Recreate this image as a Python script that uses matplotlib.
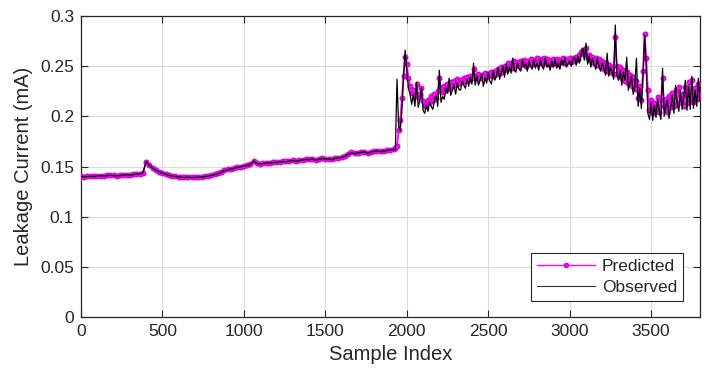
import numpy as np
import matplotlib
matplotlib.use("Agg")
import matplotlib.pyplot as plt

plt.rcParams['font.family'] = ['Liberation Sans', 'DejaVu Sans']

# smooth part: samples 0..1920 every 20; noisy part: 1930..3800 every 10
observed_smooth = [
    0.1400,0.1397,0.1400,0.1403,0.1400,0.1404,0.1408,0.1405,0.1410,0.1412,0.1409,0.1406,0.1410,0.1414,0.1418,0.1414,0.1419,0.1424,0.1428,0.1434,
    0.1550,0.1510,0.1482,0.1462,0.1447,0.1433,0.1422,0.1412,0.1405,0.1400,0.1396,0.1392,0.1391,0.1394,0.1390,0.1391,0.1394,0.1395,0.1399,0.1404,
    0.1410,0.1418,0.1428,0.1443,0.1458,0.1468,0.1474,0.1481,0.1490,0.1497,0.1503,0.1510,0.1518,0.1555,0.1530,0.1524,0.1530,0.1535,0.1533,0.1540,
    0.1540,0.1545,0.1550,0.1548,0.1555,0.1560,0.1553,0.1560,0.1566,0.1570,0.1568,0.1575,0.1562,0.1570,0.1580,0.1574,0.1576,0.1568,0.1580,0.1585,
    0.1590,0.1602,0.1622,0.1636,0.1628,0.1636,0.1641,0.1646,0.1630,0.1645,0.1650,0.1656,0.1648,0.1655,0.1660,0.1666,0.1670,
]
predicted_smooth = [
    0.1402,0.1400,0.1402,0.1405,0.1403,0.1405,0.1409,0.1408,0.1411,0.1414,0.1411,0.1408,0.1412,0.1415,0.1420,0.1416,0.1421,0.1425,0.1430,0.1436,
    0.1545,0.1512,0.1485,0.1465,0.1449,0.1436,0.1425,0.1415,0.1408,0.1402,0.1398,0.1395,0.1394,0.1396,0.1393,0.1394,0.1396,0.1398,0.1402,0.1407,
    0.1413,0.1421,0.1431,0.1446,0.1461,0.1471,0.1477,0.1484,0.1493,0.1500,0.1506,0.1513,0.1521,0.1552,0.1534,0.1527,0.1533,0.1538,0.1537,0.1543,
    0.1543,0.1548,0.1553,0.1552,0.1558,0.1563,0.1557,0.1563,0.1569,0.1573,0.1572,0.1578,0.1566,0.1573,0.1583,0.1578,0.1579,0.1572,0.1583,0.1588,
    0.1593,0.1605,0.1625,0.1640,0.1632,0.1639,0.1644,0.1649,0.1634,0.1648,0.1653,0.1659,0.1652,0.1658,0.1663,0.1669,0.1673,
]
observed_noisy = [
    0.167,0.237,0.190,0.186,0.205,0.240,0.266,0.245,0.228,0.222,
    0.212,0.222,0.210,0.234,0.209,0.216,0.228,0.206,0.203,0.211,
    0.205,0.214,0.210,0.207,0.216,0.221,0.210,0.246,0.214,0.220,
    0.217,0.228,0.223,0.238,0.221,0.226,0.231,0.222,0.233,0.227,
    0.226,0.235,0.231,0.228,0.237,0.230,0.239,0.232,0.253,0.231,
    0.240,0.231,0.236,0.242,0.230,0.238,0.233,0.244,0.235,0.232,
    0.245,0.236,0.240,0.248,0.237,0.243,0.250,0.239,0.252,0.242,
    0.249,0.243,0.258,0.246,0.244,0.253,0.247,0.245,0.256,0.249,
    0.252,0.245,0.255,0.250,0.247,0.256,0.248,0.253,0.246,0.257,
    0.250,0.247,0.258,0.249,0.252,0.246,0.255,0.249,0.257,0.248,
    0.253,0.247,0.256,0.251,0.258,0.249,0.252,0.255,0.250,0.257,
    0.259,0.251,0.260,0.253,0.262,0.268,0.256,0.273,0.252,0.260,
    0.249,0.258,0.252,0.247,0.258,0.250,0.245,0.253,0.248,0.241,
    0.263,0.240,0.249,0.244,0.237,0.291,0.241,0.236,0.246,0.231,
    0.244,0.236,0.259,0.226,0.233,0.240,0.222,0.230,0.258,0.210,
    0.228,0.208,0.238,0.281,0.248,0.203,0.197,0.214,0.196,0.211,
    0.199,0.217,0.205,0.197,0.248,0.200,0.211,0.216,0.198,0.209,
    0.221,0.203,0.231,0.212,0.205,0.226,0.207,0.220,0.236,0.206,
    0.230,0.207,0.240,0.208,0.226,0.210,0.238,0.215,
]
predicted_noisy = [
    0.168,0.170,0.186,0.196,0.218,0.240,0.259,0.252,0.238,0.230,
    0.223,0.226,0.220,0.232,0.219,0.222,0.228,0.215,0.210,0.212,
    0.216,0.214,0.220,0.216,0.222,0.218,0.225,0.238,0.228,0.224,
    0.230,0.226,0.232,0.228,0.234,0.230,0.235,0.231,0.237,0.233,
    0.236,0.234,0.238,0.235,0.239,0.236,0.240,0.238,0.247,0.240,
    0.238,0.242,0.238,0.241,0.240,0.243,0.239,0.242,0.241,0.244,
    0.240,0.245,0.242,0.247,0.243,0.249,0.245,0.250,0.247,0.253,
    0.248,0.253,0.248,0.255,0.251,0.254,0.250,0.255,0.252,0.256,
    0.250,0.255,0.252,0.257,0.252,0.256,0.253,0.258,0.253,0.257,
    0.253,0.258,0.253,0.257,0.252,0.256,0.252,0.257,0.253,0.257,
    0.252,0.256,0.254,0.258,0.253,0.257,0.255,0.258,0.254,0.258,
    0.255,0.259,0.257,0.261,0.264,0.266,0.262,0.268,0.258,0.261,
    0.255,0.259,0.253,0.258,0.251,0.257,0.249,0.255,0.247,0.253,
    0.245,0.251,0.244,0.249,0.242,0.279,0.250,0.240,0.249,0.238,
    0.246,0.235,0.244,0.233,0.241,0.230,0.239,0.227,0.235,0.218,
    0.230,0.216,0.245,0.282,0.258,0.226,0.206,0.216,0.203,0.213,
    0.206,0.219,0.204,0.216,0.238,0.210,0.217,0.204,0.220,0.209,
    0.223,0.210,0.226,0.212,0.229,0.214,0.222,0.210,0.229,0.213,
    0.234,0.215,0.236,0.214,0.228,0.217,0.232,0.221,
]

observed = observed_smooth + observed_noisy
predicted = predicted_smooth + predicted_noisy
sample_index = np.concatenate([np.arange(len(observed_smooth)) * 20,
                               1930 + np.arange(len(observed_noisy)) * 10])

xticks = [0, 500, 1000, 1500, 2000, 2500, 3000, 3500]
yticks = [0, 0.05, 0.1, 0.15, 0.2, 0.25, 0.3]
ytick_labels = ['0', '0.05', '0.1', '0.15', '0.2', '0.25', '0.3']

fig = plt.figure(figsize=(7.09, 3.85), dpi=100)
ax = fig.add_axes([0.1142, 0.1766, 0.8731, 0.7818])

axc = '#262626'
ax.plot(sample_index, predicted, color=(1, 0, 1), lw=1.3, marker='o', ms=3.3,
        mec=(0.85, 0, 0.85), mfc=(0.9, 0.1, 0.9), label='Predicted', zorder=3)
ax.plot(sample_index, observed, color='black', lw=0.9, label='Observed', zorder=4)

ax.set_xlim(0, 3800)
ax.set_ylim(0, 0.3)
ax.set_xticks(xticks)
ax.set_yticks(yticks)
ax.set_yticklabels(ytick_labels)
ax.grid(True, color='#dcdcdc', lw=0.8)
ax.set_axisbelow(True)
ax.tick_params(direction='in', top=True, right=True, length=5, width=0.8,
               colors=axc, labelsize=12.5, labelcolor=axc, pad=5)
for s in ax.spines.values():
    s.set_color(axc)
    s.set_linewidth(0.9)

ax.set_xlabel('Sample Index', fontsize=14.5, color=axc, labelpad=4)
ax.set_ylabel('Leakage Current (mA)', fontsize=14.5, color=axc, labelpad=5)

leg = ax.legend(loc='lower right', bbox_to_anchor=(0.9725, 0.053), fontsize=12.5,
                frameon=True, fancybox=False, framealpha=1, edgecolor=axc,
                handlelength=3.3, borderpad=0.35, labelspacing=0.35,
                handletextpad=0.4, borderaxespad=0)
leg.get_frame().set_linewidth(0.8)
leg_lines = leg.get_lines()
leg_lines[0].set_linewidth(1.0)
leg_lines[0].set_markersize(3.0)
leg_lines[1].set_linewidth(0.8)
leg_lines[1].set_color('#333333')
for t in leg.get_texts():
    t.set_color(axc)

fig.savefig('out.png', dpi=100)
